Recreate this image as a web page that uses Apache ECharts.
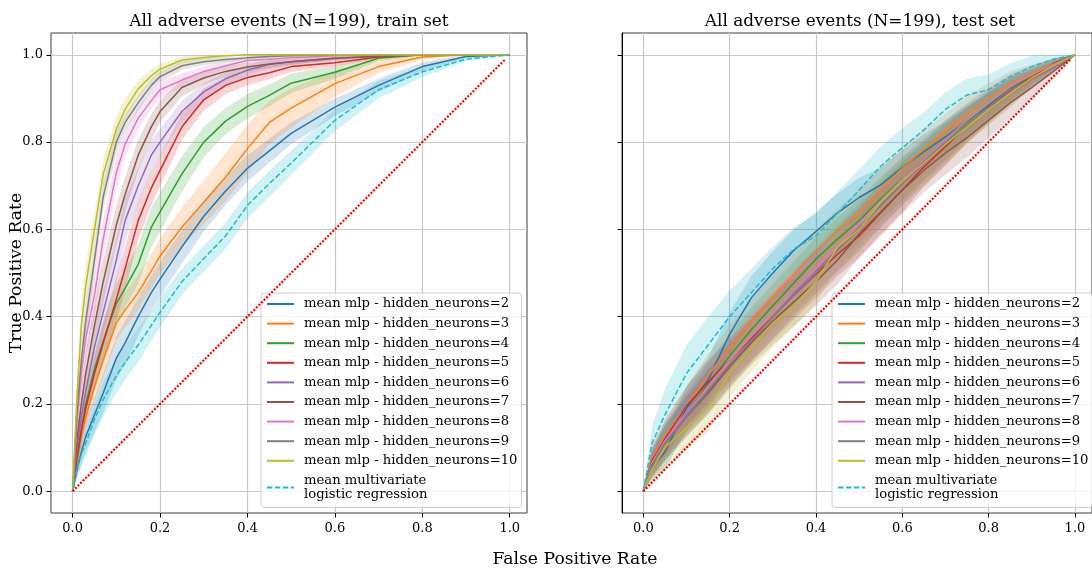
<!DOCTYPE html>
<html><head><meta charset="utf-8">
<script src="https://cdn.jsdelivr.net/npm/echarts@6/dist/echarts.min.js"></script>
<style>html,body{margin:0;padding:0;background:#fff}#c{width:1092px;height:570px}</style>
</head><body><div id="c"></div>
<script>
// ---------- DATA ----------
const seriesNames = ['mean mlp - hidden_neurons=2','mean mlp - hidden_neurons=3','mean mlp - hidden_neurons=4',
  'mean mlp - hidden_neurons=5','mean mlp - hidden_neurons=6','mean mlp - hidden_neurons=7',
  'mean mlp - hidden_neurons=8','mean mlp - hidden_neurons=9','mean mlp - hidden_neurons=10',
  'mean multivariate\nlogistic regression'];
const panelTitles = ['All adverse events (N=199), train set','All adverse events (N=199), test set'];
const xTicks = [0, 0.2, 0.4, 0.6, 0.8, 1.0];
const yTicks = [0, 0.2, 0.4, 0.6, 0.8, 1.0];
const chanceLine = [[0, 0], [0.99, 0.99]];

// train set: false positive rate grid and mean TPR / std per model
const trainFpr = [0,.01,.02,.03,.05,.07,.1,.12,.15,.18,.2,.25,.3,.35,.4,.45,.5,.6,.7,.8,.9,1];
const trainN2  = [0,.05,.09,.125,.175,.225,.305,.34,.4,.455,.486,.56,.63,.688,.74,.78,.82,.88,.93,.973,.996,1];
const trainN3  = [0,.068,.125,.17,.24,.3,.385,.415,.455,.505,.539,.605,.662,.72,.785,.845,.878,.934,.973,.995,1,1];
const trainN4  = [0,.075,.14,.2,.28,.345,.43,.465,.52,.605,.64,.727,.8,.848,.882,.907,.935,.96,.992,1,1,1];
const trainN5  = [0,.08,.14,.19,.27,.34,.44,.51,.62,.695,.735,.835,.897,.93,.948,.959,.973,.982,.995,1,1,1];
const trainN6  = [0,.1,.17,.23,.33,.41,.53,.62,.7,.77,.8,.87,.915,.945,.965,.978,.984,.992,.997,1,1,1];
const trainN7  = [0,.12,.2,.27,.38,.48,.61,.68,.77,.835,.87,.925,.947,.962,.972,.979,.984,.992,.997,1,1,1];
const trainN8  = [0,.16,.27,.35,.45,.578,.73,.795,.855,.895,.92,.942,.962,.975,.987,.99,.993,.998,1,1,1,1];
const trainN9  = [0,.18,.3,.39,.53,.675,.8,.845,.89,.93,.95,.975,.984,.989,.993,.996,.998,1,1,1,1,1];
const trainN10 = [0,.22,.38,.47,.6,.726,.83,.875,.922,.952,.967,.988,.994,.998,1,1,1,1,1,1,1,1];
const trainLR  = [0,.05,.085,.11,.164,.21,.265,.295,.335,.38,.41,.48,.533,.585,.655,.705,.752,.85,.92,.961,.99,1];

const trainSdN2  = [0,.02,.03,.035,.04,.045,.05,.05,.045,.04,.04,.038,.035,.033,.03,.028,.025,.02,.015,.01,.004,0];
const trainSdN3  = [0,.02,.025,.03,.035,.04,.04,.04,.04,.04,.04,.045,.05,.055,.055,.05,.045,.03,.015,.005,0,0];
const trainSdN4  = [0,.02,.03,.035,.04,.045,.045,.045,.045,.045,.045,.04,.035,.03,.028,.025,.022,.015,.006,.002,0,0];
const trainSdN5  = [0,.02,.03,.035,.04,.045,.05,.05,.045,.04,.035,.03,.025,.02,.018,.015,.012,.008,.004,0,0,0];
const trainSdN6  = [0,.03,.04,.05,.05,.05,.05,.05,.04,.035,.03,.025,.02,.015,.012,.01,.008,.005,.003,0,0,0];
const trainSdN7  = [0,.04,.05,.05,.05,.05,.045,.04,.035,.03,.025,.02,.015,.012,.01,.008,.006,.004,.002,0,0,0];
const trainSdN8  = [0,.04,.05,.05,.05,.045,.04,.03,.025,.02,.02,.015,.012,.01,.008,.006,.005,.003,0,0,0,0];
const trainSdN9  = [0,.03,.04,.04,.035,.03,.025,.02,.018,.015,.012,.01,.008,.006,.004,.003,.002,0,0,0,0,0];
const trainSdN10 = [0,.04,.05,.05,.04,.035,.03,.025,.02,.015,.012,.008,.005,.003,0,0,0,0,0,0,0,0];
const trainSdLR  = [0,.02,.025,.03,.035,.04,.04,.04,.04,.035,.035,.03,.03,.03,.03,.03,.028,.025,.02,.012,.005,0];

// test set
const testFpr = [0,.02,.05,.1,.15,.2,.25,.3,.35,.4,.45,.5,.55,.6,.65,.7,.75,.8,.85,.9,.95,1];
const testN2  = [0,.055,.09,.19,.255,.36,.443,.5,.553,.595,.638,.673,.702,.742,.778,.812,.848,.884,.921,.948,.975,1];
const testN3  = [0,.075,.125,.195,.265,.33,.39,.445,.497,.55,.597,.64,.692,.74,.783,.825,.865,.9,.933,.958,.98,1];
const testN4  = [0,.065,.11,.18,.245,.31,.37,.425,.478,.532,.578,.62,.67,.716,.76,.805,.847,.887,.922,.955,.978,1];
const testN5  = [0,.07,.12,.195,.25,.3,.35,.4,.45,.497,.543,.585,.638,.69,.743,.79,.838,.88,.918,.949,.98,1];
const testN6  = [0,.065,.115,.175,.23,.29,.345,.4,.455,.505,.555,.605,.655,.705,.75,.795,.84,.88,.92,.945,.97,1];
const testN7  = [0,.06,.11,.17,.225,.285,.34,.39,.435,.48,.53,.59,.64,.69,.735,.775,.81,.85,.89,.925,.962,1];
const testN8  = [0,.065,.115,.18,.24,.3,.355,.41,.46,.51,.56,.612,.665,.715,.76,.805,.85,.89,.928,.955,.978,1];
const testN9  = [0,.06,.11,.17,.23,.29,.345,.4,.45,.5,.552,.6,.655,.705,.755,.8,.84,.875,.91,.945,.975,1];
const testN10 = [0,.05,.1,.145,.19,.27,.328,.385,.426,.48,.56,.6,.662,.71,.752,.795,.835,.875,.911,.947,.975,1];
const testLR  = [0,.11,.175,.27,.335,.4,.455,.51,.556,.585,.637,.69,.745,.787,.828,.875,.908,.92,.95,.973,.99,1];

const testSdN2  = [0,.03,.04,.05,.05,.05,.05,.05,.048,.045,.045,.045,.04,.04,.04,.035,.035,.03,.025,.02,.012,0];
const testSdN3  = [0,.03,.04,.045,.05,.05,.05,.05,.05,.05,.05,.05,.05,.045,.045,.04,.04,.035,.03,.02,.012,0];
const testSdN4  = [0,.03,.04,.045,.05,.05,.05,.05,.05,.05,.05,.05,.05,.05,.045,.045,.04,.035,.03,.02,.012,0];
const testSdN5  = [0,.03,.04,.045,.05,.05,.05,.055,.055,.055,.05,.05,.05,.05,.045,.045,.04,.035,.03,.02,.012,0];
const testSdN6  = [0,.03,.04,.045,.05,.05,.05,.05,.05,.05,.05,.05,.05,.05,.05,.045,.04,.035,.03,.02,.012,0];
const testSdN7  = [0,.03,.04,.045,.05,.05,.05,.055,.055,.055,.055,.055,.055,.055,.05,.05,.045,.04,.035,.025,.015,0];
const testSdN8  = [0,.03,.04,.045,.05,.05,.05,.05,.05,.05,.05,.05,.05,.05,.05,.045,.04,.035,.03,.02,.012,0];
const testSdN9  = [0,.03,.04,.045,.05,.05,.05,.05,.05,.05,.05,.05,.05,.05,.045,.045,.04,.035,.03,.02,.012,0];
const testSdN10 = [0,.03,.045,.05,.055,.055,.055,.055,.05,.05,.05,.05,.05,.05,.05,.045,.04,.035,.03,.02,.012,0];
const testSdLR  = [0,.04,.06,.065,.065,.06,.055,.05,.05,.05,.05,.048,.045,.045,.04,.04,.038,.035,.03,.025,.015,0];

const colors = ['#1f77b4','#ff7f0e','#2ca02c','#d62728','#9467bd','#8c564b','#e377c2','#7f7f7f','#bcbd22','#17becf'];

// ---------- BUILD ----------
const panels = [
  { fpr: trainFpr,
    tpr: [trainN2,trainN3,trainN4,trainN5,trainN6,trainN7,trainN8,trainN9,trainN10,trainLR],
    sd:  [trainSdN2,trainSdN3,trainSdN4,trainSdN5,trainSdN6,trainSdN7,trainSdN8,trainSdN9,trainSdN10,trainSdLR] },
  { fpr: testFpr,
    tpr: [testN2,testN3,testN4,testN5,testN6,testN7,testN8,testN9,testN10,testLR],
    sd:  [testSdN2,testSdN3,testSdN4,testSdN5,testSdN6,testSdN7,testSdN8,testSdN9,testSdN10,testSdLR] }
];

const FONT = '"DejaVu Serif", "Liberation Serif", serif';
const series = [];
panels.forEach((pn, p) => {
  pn.tpr.forEach((tpr, i) => {
    const sd = pn.sd[i];
    const band = pn.fpr.map((x, k) => [x, Math.max(0, tpr[k] - sd[k]), Math.min(1, tpr[k] + sd[k])]);
    const color = colors[i];
    series.push({
      type: 'custom', name: 'band' + p + '_' + i, xAxisIndex: p, yAxisIndex: p, silent: true, z: 1,
      data: band, encode: { x: 0, y: [1, 2] },
      renderItem: function (params, api) {
        if (params.dataIndex !== 0) return null;
        const pts = [];
        for (let k = 0; k < band.length; k++) pts.push(api.coord([band[k][0], band[k][2]]));
        for (let k = band.length - 1; k >= 0; k--) pts.push(api.coord([band[k][0], band[k][1]]));
        return { type: 'polygon', shape: { points: pts }, style: { fill: color, opacity: 0.2 } };
      }
    });
  });
  pn.tpr.forEach((tpr, i) => {
    series.push({
      type: 'line', name: seriesNames[i], xAxisIndex: p, yAxisIndex: p, z: 3,
      data: pn.fpr.map((x, k) => [x, tpr[k]]),
      symbol: 'none', silent: true, color: colors[i],
      lineStyle: { color: colors[i], width: 1.5, type: i === 9 ? [5.5, 2.4] : 'solid' },
      emphasis: { disabled: true }
    });
  });
  series.push({
    type: 'line', name: 'chance' + p, xAxisIndex: p, yAxisIndex: p, z: 4,
    data: chanceLine, symbol: 'none', silent: true,
    lineStyle: { color: '#ff0000', width: 2.2, type: [2, 1.6] }
  });
});

function xAxis(idx) {
  return {
    type: 'value', gridIndex: idx, min: -0.0495, max: 1.0395, splitNumber: 5, minInterval: 0.2, maxInterval: 0.2,
    axisLine: { show: false, onZero: false },
    axisTick: { show: true, length: 4.5, customValues: xTicks, lineStyle: { color: '#000', width: 1 } },
    axisLabel: { show: true, customValues: xTicks, margin: 9, fontFamily: FONT, fontSize: 13, color: '#000',
                 formatter: v => v.toFixed(1) },
    splitLine: { show: true, lineStyle: { color: '#c8c8c8', width: 1.2 } }
  };
}
function yAxis(idx) {
  return {
    type: 'value', gridIndex: idx, min: -0.05, max: 1.05, splitNumber: 5, minInterval: 0.2, maxInterval: 0.2,
    axisLine: { show: idx === 1, onZero: false, lineStyle: { color: '#000', width: 1 } },
    axisTick: { show: true, length: 4.5, customValues: yTicks, lineStyle: { color: '#000', width: 1 } },
    axisLabel: { show: idx === 0, customValues: yTicks, margin: 8, fontFamily: FONT, fontSize: 13, color: '#000',
                 formatter: v => v.toFixed(1) },
    splitLine: { show: true, lineStyle: { color: '#c8c8c8', width: 1.2 } }
  };
}
function legend(left) {
  return {
    orient: 'vertical', left: left, top: 293, data: seriesNames, selectedMode: false,
    itemWidth: 27, itemHeight: 14, itemGap: 5.6, padding: [4, 4, 6, 5],
    backgroundColor: 'rgba(255,255,255,0.8)', borderColor: '#cccccc', borderWidth: 1, borderRadius: 3,
    itemStyle: { opacity: 0 },
    textStyle: { fontFamily: FONT, fontSize: 13.2, color: '#000', lineHeight: 14, padding: [0, 0, 0, 5] }
  };
}

const chart = echarts.init(document.getElementById('c'), null, { renderer: 'canvas' });
chart.setOption({
  animation: false,
  backgroundColor: '#fff',
  grid: [
    { left: 51, top: 33, width: 476, height: 480, show: true, borderColor: '#3c3c3c', borderWidth: 1, backgroundColor: 'transparent' },
    { left: 622, top: 33, width: 476, height: 480, show: true, borderColor: '#3c3c3c', borderWidth: 1, backgroundColor: 'transparent' }
  ],
  xAxis: [xAxis(0), xAxis(1)],
  yAxis: [yAxis(0), yAxis(1)],
  legend: [legend(261), legend(832)],
  series: series,
  graphic: [
    { type: 'text', x: 289, y: 22, style: { text: panelTitles[0], font: '16.9px ' + FONT, fill: '#000', align: 'center', verticalAlign: 'middle' } },
    { type: 'text', x: 860, y: 22, style: { text: panelTitles[1], font: '16.9px ' + FONT, fill: '#000', align: 'center', verticalAlign: 'middle' } },
    { type: 'text', x: 575, y: 560, style: { text: 'False Positive Rate', font: '17.2px ' + FONT, fill: '#000', align: 'center', verticalAlign: 'middle' } },
    { type: 'text', x: 17, y: 273, rotation: Math.PI / 2, style: { text: 'True Positive Rate', font: '17.2px ' + FONT, fill: '#000', align: 'center', verticalAlign: 'middle' } }
  ]
});
</script>
</body></html>
